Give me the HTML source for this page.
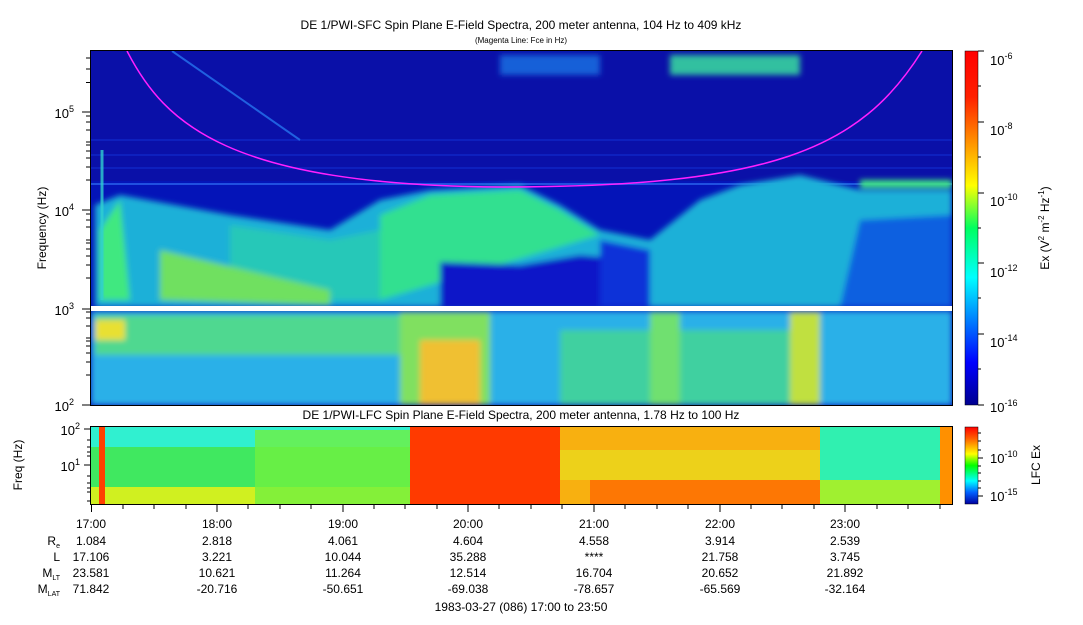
<!DOCTYPE html>
<html><head><meta charset="utf-8"><style>
body{margin:0;background:#fff;width:1083px;height:620px;overflow:hidden;font-family:"Liberation Sans",sans-serif}
svg text{font-family:"Liberation Sans",sans-serif;fill:#000}
</style></head><body>
<svg width="1083" height="620" xmlns="http://www.w3.org/2000/svg">
<defs>
<linearGradient id="jet" x1="0" y1="1" x2="0" y2="0">
<stop offset="0" stop-color="#00008f"/><stop offset="0.12" stop-color="#0000ff"/><stop offset="0.36" stop-color="#00ffff"/><stop offset="0.5" stop-color="#00ff60"/><stop offset="0.62" stop-color="#ffff00"/><stop offset="0.87" stop-color="#ff2000"/><stop offset="1" stop-color="#ff0000"/></linearGradient>
<linearGradient id="jet2" x1="0" y1="1" x2="0" y2="0">
<stop offset="0" stop-color="#0000a0"/><stop offset="0.15" stop-color="#0060ff"/><stop offset="0.3" stop-color="#00ffff"/><stop offset="0.5" stop-color="#00ff00"/><stop offset="0.65" stop-color="#ffff00"/><stop offset="0.85" stop-color="#ff6000"/><stop offset="1" stop-color="#ff0000"/></linearGradient>
<filter id="b" x="-5%" y="-5%" width="110%" height="110%"><feGaussianBlur stdDeviation="3"/></filter>
<clipPath id="c1"><rect x="91" y="51" width="861" height="354"/></clipPath>
<clipPath id="c2"><rect x="91" y="427" width="861" height="77"/></clipPath>
</defs>

<text x="521" y="29" font-size="12" text-anchor="middle">DE 1/PWI-SFC  Spin Plane E-Field Spectra, 200 meter antenna, 104 Hz to 409 kHz</text>
<text x="521" y="43" font-size="8" text-anchor="middle">(Magenta Line: Fce in Hz)</text>

<g clip-path="url(#c1)">
<rect x="91" y="51" width="861" height="354" fill="#0414b8"/>
<rect x="91" y="51" width="861" height="130" fill="#0a10a8"/>
<g stroke="#1028c8" stroke-width="2" opacity="0.7">
<line x1="91" y1="140" x2="952" y2="140"/><line x1="91" y1="155" x2="952" y2="155"/><line x1="91" y1="168" x2="952" y2="168"/>
</g>
<line x1="91" y1="184" x2="952" y2="184" stroke="#2050e0" stroke-width="2"/>
<g filter="url(#b)">
<polygon points="95,205 120,195 230,215 330,230 380,200 430,190 520,185 560,205 600,230 650,240 700,200 740,185 800,175 860,190 952,190 952,307 95,307" fill="#1ab0d8"/>
<polygon points="380,215 430,195 520,190 560,210 600,235 380,300" fill="#30e090"/>
<polygon points="230,225 330,240 380,230 380,300 230,300" fill="#28c8b8"/>
<polygon points="100,230 120,200 130,300 100,300" fill="#40e880"/>
<polygon points="160,250 330,290 330,305 160,300" fill="#70e060"/>
<polygon points="440,262 520,265 580,255 640,260 650,307 440,307" fill="#0818c8"/>
<polygon points="600,240 650,250 650,307 600,307" fill="#0830d8"/>
<polygon points="860,220 952,215 952,307 840,307" fill="#1060e0"/>
<rect x="860" y="180" width="92" height="8" fill="#40e880"/>
<rect x="91" y="311" width="861" height="94" fill="#2ab0e8"/>
<rect x="95" y="315" width="310" height="40" fill="#50d890"/>
<rect x="95" y="320" width="30" height="20" fill="#e8e030"/>
<rect x="400" y="312" width="90" height="93" fill="#80e060"/>
<rect x="420" y="340" width="60" height="65" fill="#f0c030"/>
<rect x="560" y="330" width="240" height="75" fill="#40d0a0"/>
<rect x="650" y="312" width="30" height="93" fill="#70e070"/>
<rect x="790" y="312" width="30" height="93" fill="#c0e040"/>
<rect x="670" y="55" width="130" height="20" fill="#30c0a0"/>
<rect x="500" y="55" width="100" height="20" fill="#1560d8"/>
</g>
<line x1="102" y1="150" x2="102" y2="300" stroke="#30d0d0" stroke-width="3" opacity="0.8"/>
<path d="M172,51 L300,140" stroke="#2060e0" stroke-width="2" fill="none"/>
<rect x="91" y="306" width="861" height="5" fill="#fff"/>
<path d="M127,51 C165,125 230,185 500,187 C770,187 860,150 922,51" fill="none" stroke="#ff20ff" stroke-width="1.5"/>
</g>
<rect x="90.5" y="50.5" width="862" height="355" fill="none" stroke="#000"/>
<g font-size="13" text-anchor="end">
<text x="74" y="118">10<tspan font-size="9" dy="-6">5</tspan></text>
<text x="74" y="216">10<tspan font-size="9" dy="-6">4</tspan></text>
<text x="74" y="315">10<tspan font-size="9" dy="-6">3</tspan></text>
<text x="74" y="411">10<tspan font-size="9" dy="-6">2</tspan></text>
</g>
<g stroke="#000">
<line x1="82" y1="112" x2="90" y2="112"/><line x1="82" y1="210" x2="90" y2="210"/><line x1="82" y1="309" x2="90" y2="309"/><line x1="82" y1="405" x2="90" y2="405"/>
<!-- minor -->
<path d="M86,82.5h4M86,69h4M86,58h4M86,142h4M86,130h4M86,122h4M86,116h4M86,180h4M86,167h4M86,158h4M86,151h4M86,145h4M86,240h4M86,227h4M86,220h4M86,214h4M86,278h4M86,265h4M86,256h4M86,249h4M86,243h4M86,338h4M86,326h4M86,318h4M86,312h4M86,375h4M86,362h4M86,353h4M86,346h4M86,341h4" />
</g>
<text transform="translate(46,228) rotate(-90)" font-size="12" text-anchor="middle">Frequency (Hz)</text>

<rect x="965" y="51" width="13" height="354" fill="url(#jet)" stroke="#000" stroke-width="0.5"/>
<g stroke="#000"><path d="M978,51h6M978,122h6M978,193h6M978,263h6M978,334h6M978,405h6M978,86h3M978,157h3M978,228h3M978,298h3M978,369h3"/></g>
<g font-size="13">
<text x="990" y="65">10<tspan font-size="9" dy="-6">-6</tspan></text>
<text x="990" y="135">10<tspan font-size="9" dy="-6">-8</tspan></text>
<text x="990" y="206">10<tspan font-size="9" dy="-6">-10</tspan></text>
<text x="990" y="277">10<tspan font-size="9" dy="-6">-12</tspan></text>
<text x="990" y="347">10<tspan font-size="9" dy="-6">-14</tspan></text>
<text x="990" y="412">10<tspan font-size="9" dy="-6">-16</tspan></text>
</g>
<text transform="translate(1049,228) rotate(-90)" font-size="12" text-anchor="middle">Ex (V<tspan font-size="8" dy="-5">2</tspan><tspan dy="5"> m</tspan><tspan font-size="8" dy="-5">-2</tspan><tspan dy="5"> Hz</tspan><tspan font-size="8" dy="-5">-1</tspan><tspan dy="5">)</tspan></text>

<text x="521" y="419" font-size="12" text-anchor="middle">DE 1/PWI-LFC  Spin Plane E-Field Spectra, 200 meter antenna, 1.78 Hz to 100 Hz</text>
<g clip-path="url(#c2)">
<rect x="91" y="427" width="861" height="77" fill="#40e860"/>
<rect x="91" y="427" width="320" height="20" fill="#30f0d0"/>
<rect x="91" y="447" width="320" height="40" fill="#40e860"/>
<rect x="91" y="487" width="320" height="17" fill="#d0f020"/>
<rect x="255" y="430" width="155" height="74" fill="#70f040" opacity="0.8"/>
<rect x="99" y="427" width="6" height="77" fill="#ff4000"/>
<rect x="410" y="427" width="150" height="77" fill="#ff3a00"/>
<rect x="560" y="427" width="260" height="77" fill="#f8b010"/>
<rect x="560" y="450" width="260" height="30" fill="#e8e020" opacity="0.7"/>
<rect x="590" y="480" width="230" height="24" fill="#ff6000" opacity="0.7"/>
<rect x="820" y="427" width="120" height="77" fill="#30f0b0"/>
<rect x="820" y="480" width="120" height="24" fill="#a0f030"/>
<rect x="940" y="427" width="12" height="77" fill="#ff9000"/>
</g>
<rect x="90.5" y="426.5" width="862" height="78" fill="none" stroke="#000"/>
<g stroke="#000"><path d="M84,429h6M84,465h6M87,440h3M87,447h3M87,452h3M87,456h3M87,476h3M87,483h3M87,488h3M87,492h3M87,501h3"/></g>
<g font-size="13" text-anchor="end">
<text x="80" y="435">10<tspan font-size="9" dy="-6">2</tspan></text>
<text x="80" y="471">10<tspan font-size="9" dy="-6">1</tspan></text>
</g>
<text transform="translate(22,465) rotate(-90)" font-size="12" text-anchor="middle">Freq (Hz)</text>
<rect x="965" y="427" width="13" height="77" fill="url(#jet2)" stroke="#000" stroke-width="0.5"/>
<g stroke="#000"><path d="M978,458h5M978,496h5M978,433h3M978,441h3M978,450h3M978,466h3M978,473h3M978,481h3M978,488h3"/></g>
<g font-size="13"><text x="990" y="463">10<tspan font-size="9" dy="-6">-10</tspan></text><text x="990" y="501">10<tspan font-size="9" dy="-6">-15</tspan></text></g>
<text transform="translate(1040,465) rotate(-90)" font-size="12" text-anchor="middle">LFC Ex</text>

<g stroke="#000">
<line x1="91.5" y1="505" x2="91.5" y2="512"/><line x1="217" y1="505" x2="217" y2="512"/><line x1="343" y1="505" x2="343" y2="512"/><line x1="468" y1="505" x2="468" y2="512"/><line x1="594" y1="505" x2="594" y2="512"/><line x1="720" y1="505" x2="720" y2="512"/><line x1="845" y1="505" x2="845" y2="512"/>
<path d="M123,505v4M154,505v4M186,505v4M248,505v4M280,505v4M311,505v4M374,505v4M405,505v4M437,505v4M499,505v4M531,505v4M562,505v4M625,505v4M657,505v4M688,505v4M751,505v4M782,505v4M814,505v4M877,505v4M908,505v4M940,505v4"/>
</g>
<g font-size="12" text-anchor="middle">
<text x="91" y="528">17:00</text><text x="217" y="528">18:00</text><text x="343" y="528">19:00</text><text x="468" y="528">20:00</text><text x="594" y="528">21:00</text><text x="720" y="528">22:00</text><text x="845" y="528">23:00</text>
<text x="91" y="545">1.084</text><text x="217" y="545">2.818</text><text x="343" y="545">4.061</text><text x="468" y="545">4.604</text><text x="594" y="545">4.558</text><text x="720" y="545">3.914</text><text x="845" y="545">2.539</text>
<text x="91" y="561">17.106</text><text x="217" y="561">3.221</text><text x="343" y="561">10.044</text><text x="468" y="561">35.288</text><text x="594" y="561">****</text><text x="720" y="561">21.758</text><text x="845" y="561">3.745</text>
<text x="91" y="577">23.581</text><text x="217" y="577">10.621</text><text x="343" y="577">11.264</text><text x="468" y="577">12.514</text><text x="594" y="577">16.704</text><text x="720" y="577">20.652</text><text x="845" y="577">21.892</text>
<text x="91" y="593">71.842</text><text x="217" y="593">-20.716</text><text x="343" y="593">-50.651</text><text x="468" y="593">-69.038</text><text x="594" y="593">-78.657</text><text x="720" y="593">-65.569</text><text x="845" y="593">-32.164</text>
<text x="521" y="611">1983-03-27 (086) 17:00 to 23:50</text>
</g>
<g font-size="12" text-anchor="end">
<text x="60" y="545">R<tspan font-size="7" dy="3">e</tspan></text>
<text x="60" y="561">L</text>
<text x="60" y="577">M<tspan font-size="7" dy="3">LT</tspan></text>
<text x="60" y="593">M<tspan font-size="7" dy="3">LAT</tspan></text>
</g>
</svg>
</body></html>
